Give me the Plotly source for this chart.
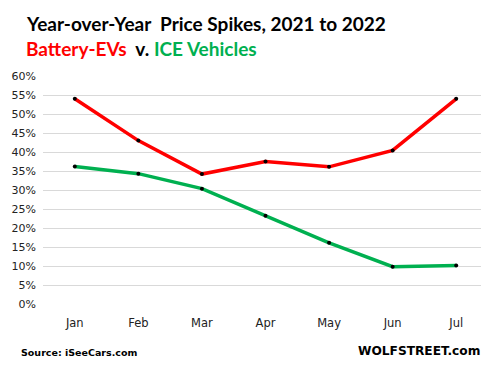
import plotly.graph_objects as go

months = ["Jan", "Feb", "Mar", "Apr", "May", "Jun", "Jul"]
ev_values = [54.0, 43.0, 34.2, 37.5, 36.1, 40.4, 54.0]
ice_values = [36.2, 34.3, 30.35, 23.2, 16.1, 9.8, 10.1]
y_ticks = list(range(0, 61, 5))

RED = "#FF0000"
GREEN = "#00B050"

# page body has an 8px margin; lay the figure out in page pixels minus that offset
OFF = 8
W, H = 489 - OFF, 372 - OFF
PL, PR, PT, PB = 43 - OFF, 488 - OFF, 76 - OFF, 304 - OFF

fig = go.Figure()
fig.add_trace(go.Scatter(x=months, y=ice_values, mode="lines+markers",
                         line=dict(color=GREEN, width=3.5),
                         marker=dict(color="black", size=4), name="ICE Vehicles"))
fig.add_trace(go.Scatter(x=months, y=ev_values, mode="lines+markers",
                         line=dict(color=RED, width=3.5),
                         marker=dict(color="black", size=4), name="Battery-EVs"))

fig.update_layout(
    width=W, height=H,
    margin=dict(l=PL, r=W - PR, t=PT, b=H - PB, autoexpand=False),
    plot_bgcolor="white", paper_bgcolor="white",
    showlegend=False,
    font=dict(family="DejaVu Sans", color="#222222"),
    xaxis=dict(type="category", range=[-0.5, 6.5], showgrid=False, showline=False,
               ticks="", tickfont=dict(size=11.5, family="DejaVu Sans", color="#222222"),
               ticklabelstandoff=10, automargin=False),
    yaxis=dict(range=[0, 60], tickvals=y_ticks, ticktext=[f"{v}%" for v in y_ticks],
               showgrid=True, gridcolor="#D9D9D9", gridwidth=1, zeroline=False,
               showline=False, ticks="", tickfont=dict(size=11, family="DejaVu Sans", color="#222222"),
               ticklabelstandoff=6, automargin=False),
)


def pa(xpx, ypx):
    # convert page pixel coordinates to paper coordinates
    fx, fy = xpx - OFF, ypx - OFF
    return (fx - PL) / (PR - PL), (PB - fy) / (PB - PT)


x0, y0 = pa(24, 24)
fig.add_annotation(x=x0, y=y0, xref="paper", yref="paper", xanchor="left", yanchor="middle",
                   text="<b>Year-over-Year  Price Spikes, 2021 to 2022</b>", showarrow=False,
                   font=dict(family="Lato", size=19, color="black"))
x1, y1 = pa(24, 49)
fig.add_annotation(x=x1, y=y1, xref="paper", yref="paper", xanchor="left", yanchor="middle",
                   text=f"<b><span style='color:{RED}'>Battery-EVs</span>  v. <span style='color:{GREEN}'>ICE Vehicles</span></b>",
                   showarrow=False, font=dict(family="Lato", size=19, color="black"))
x2, y2 = pa(19, 352)
fig.add_annotation(x=x2, y=y2, xref="paper", yref="paper", xanchor="left", yanchor="middle",
                   text="<b>Source: iSeeCars.com</b>", showarrow=False,
                   font=dict(family="DejaVu Sans", size=9.5, color="black"))
x3, y3 = pa(482, 351)
fig.add_annotation(x=x3, y=y3, xref="paper", yref="paper", xanchor="right", yanchor="middle",
                   text="<b>WOLFSTREET.com</b>", showarrow=False,
                   font=dict(family="DejaVu Sans", size=12.2, color="black"))

fig.write_html("out.html")
